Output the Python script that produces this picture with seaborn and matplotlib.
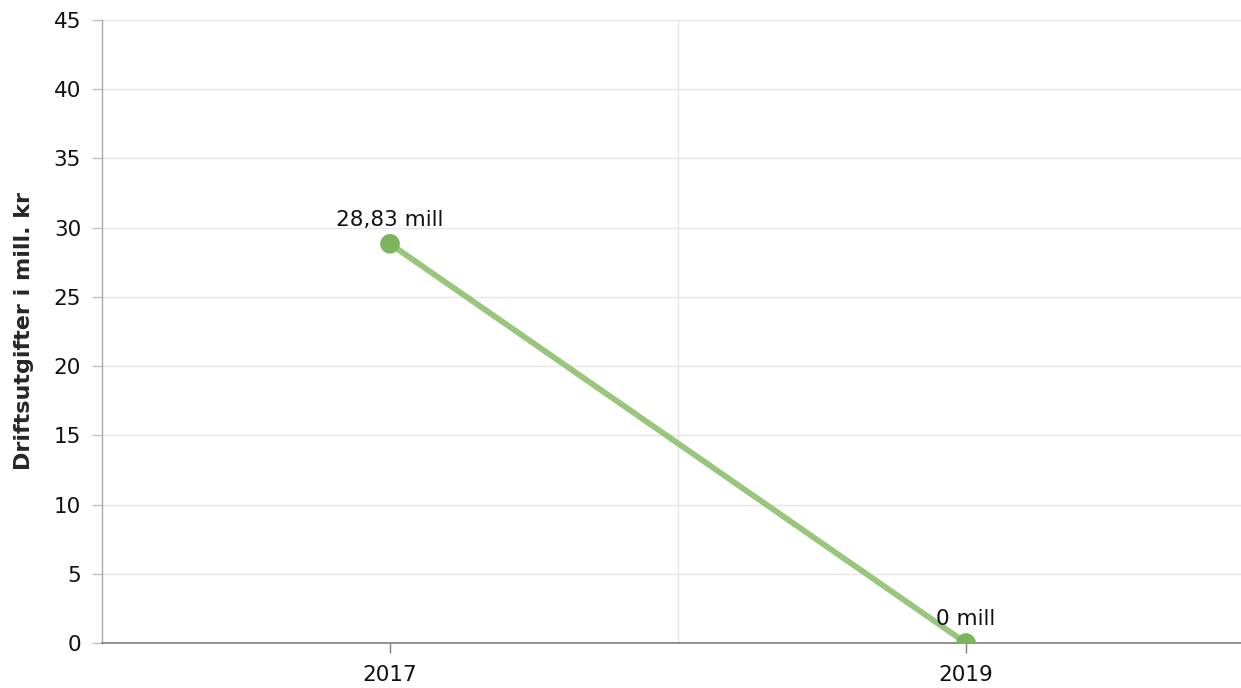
import numpy as np
import pandas as pd
import matplotlib
matplotlib.use("Agg")
import matplotlib.pyplot as plt
import seaborn as sns
from matplotlib.ticker import FixedLocator

years = ["2017", "2019"]
values = [28.83, 0.0]
labels = ["28,83 mill", "0 mill"]
y_ticks = [0, 5, 10, 15, 20, 25, 30, 35, 40, 45]

df = pd.DataFrame({"year": years, "value": values})

sns.set_theme(style="white")
plt.rcParams["font.family"] = ["DejaVu Sans"]

fig = plt.figure(figsize=(12.41, 6.88), dpi=100)
# plot area runs a little past the right edge of the picture, as in the reference
ax = fig.add_axes([0.0822, 0.0654, 0.9283, 0.9056])

sns.lineplot(data=df, x="year", y="value", color="#98c67c", linewidth=4.2, ax=ax, zorder=3)
sns.scatterplot(data=df, x="year", y="value", color="#7db55e", s=200, edgecolor="none", ax=ax, zorder=4)

for x, y, txt in zip(years, values, labels):
    ax.annotate(txt, (x, y), xytext=(0, 10), textcoords="offset points",
                ha="center", va="bottom", fontsize=15.5, color="#111111")

ax.set_xlim(-0.5, 1.5)
ax.set_ylim(0, 45)
ax.set_yticks(y_ticks)
ax.xaxis.set_minor_locator(FixedLocator([0.5]))
ax.grid(axis="y", which="major", color="#e6e6e6", linewidth=1)
ax.grid(axis="x", which="minor", color="#e6e6e6", linewidth=1)
ax.set_axisbelow(True)

for s in ["top", "right"]:
    ax.spines[s].set_visible(False)
ax.spines["left"].set_color("#a8a8a8")
ax.spines["bottom"].set_color("#7f7f7f")
ax.spines["left"].set_linewidth(1)
ax.spines["bottom"].set_linewidth(1.2)

ax.tick_params(axis="y", which="major", left=True, length=7, width=1, color="#c0c0c0",
               pad=8, labelsize=15.5, labelcolor="#111111")
ax.tick_params(axis="x", which="major", bottom=True, length=7, width=1, color="#7f7f7f",
               pad=9, labelsize=15.5, labelcolor="#111111")
ax.tick_params(axis="x", which="minor", bottom=False)

ax.set_xlabel("")
ax.set_ylabel("Driftsutgifter i mill. kr", fontsize=16, fontweight="bold", labelpad=14)

fig.savefig("out.png", dpi=100)
plt.close(fig)
